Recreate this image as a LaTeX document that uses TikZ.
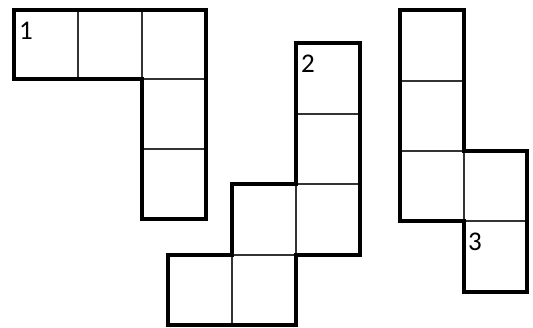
\documentclass[tikz,border=0pt]{standalone}
\usepackage{fontspec}
\setmainfont{Carlito}
\begin{document}
\begin{tikzpicture}[x=1pt,y=-1pt,
  outline/.style={line width=4pt, line join=miter, draw=black},
  inner/.style={line width=1.1pt, draw=black!80},
  lbl/.style={anchor=base west, inner sep=0pt, font=\fontsize{27}{27}\selectfont, text=black}]
\useasboundingbox (0,0) rectangle (533,328);
% shape 1
\draw[inner] (78,10) -- (78,79) (142,10) -- (142,79) (142,79) -- (206,79) (142,149) -- (206,149);
\draw[outline] (14,10) -- (206,10) -- (206,219) -- (142,219) -- (142,79) -- (14,79) -- cycle;
\node[lbl] (l1) at (19,40) {1};
% shape 2
\draw[inner] (296,114) -- (360,114) (296,184) -- (360,184) (296,184) -- (296,255) (232,255) -- (296,255) (232,255) -- (232,325);
\draw[outline] (296,43) -- (360,43) -- (360,255) -- (296,255) -- (296,325) -- (168,325) -- (168,255) -- (232,255) -- (232,184) -- (296,184) -- cycle;
\node[lbl] (l2) at (301,73) {2};
% shape 3
\draw[inner] (400,81) -- (464,81) (400,151) -- (464,151) (464,151) -- (464,221) (464,221) -- (527,221);
\draw[outline] (400,10) -- (464,10) -- (464,151) -- (527,151) -- (527,292) -- (464,292) -- (464,221) -- (400,221) -- cycle;
\node[lbl] (l3) at (468,251) {3};
\end{tikzpicture}
\end{document}
